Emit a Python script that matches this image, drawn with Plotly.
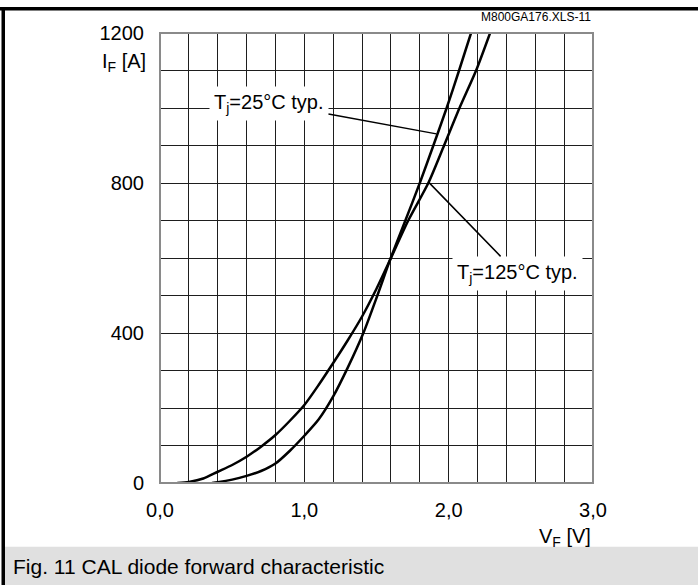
import plotly.graph_objects as go

# ---- data ----
vf_25 = [0.36, 0.4, 0.5, 0.6, 0.7, 0.8, 0.9, 1.0, 1.1, 1.2, 1.3, 1.409, 1.506, 1.594, 1.70, 1.80, 1.894, 1.986, 2.072, 2.155]
if_25 = [0, 2, 9, 19, 32, 52, 86, 126, 170, 231, 307, 400, 500, 595, 700, 800, 900, 1000, 1100, 1200]

vf_125 = [0.12, 0.2, 0.3, 0.4, 0.5, 0.6, 0.7, 0.8, 0.9, 1.0, 1.1, 1.2, 1.3, 1.4, 1.5, 1.594, 1.72, 1.859, 1.968, 2.075, 2.19, 2.287]
if_125 = [0, 3, 12, 30, 48, 70, 97, 128, 166, 208, 262, 320, 380, 444, 518, 595, 700, 800, 900, 1000, 1100, 1200]

x_tickvals = [0, 1, 2, 3]
x_ticktext = ["0,0", "1,0", "2,0", "3,0"]
y_tickvals = [0, 400, 800, 1200]
y_ticktext = ["0", "400", "800", "1200"]

label_25 = "T<sub>j</sub>=25°C typ."
label_125 = "T<sub>j</sub>=125°C typ."
caption = "Fig. 11 CAL diode forward characteristic"
file_tag = "M800GA176.XLS-11"

# ---- layout geometry (pixels) ----
W, H = 698, 585
L, R, T, B = 160, 593, 33, 483
PW, PH = R - L, B - T
FONT = "Liberation Sans, Arial, sans-serif"


def px(x):
    return (x - L) / PW


def py(y):
    return (B - y) / PH


fig = go.Figure()
fig.add_trace(go.Scatter(x=vf_25, y=if_25, mode="lines",
                         line=dict(color="black", width=2.5, shape="spline", smoothing=0.7),
                         hoverinfo="skip"))
fig.add_trace(go.Scatter(x=vf_125, y=if_125, mode="lines",
                         line=dict(color="black", width=2.5, shape="spline", smoothing=0.7),
                         hoverinfo="skip"))

grid_c = "#1e1e1e"
fig.update_xaxes(range=[0, 3], tickvals=x_tickvals, ticktext=x_ticktext,
                 showgrid=True, gridcolor=grid_c, gridwidth=1.3,
                 minor=dict(dtick=0.2, showgrid=True, gridcolor=grid_c, gridwidth=1.3),
                 zeroline=False, showline=False, ticks="",
                 ticklabelstandoff=13,
                 tickfont=dict(family=FONT, size=20, color="black"))
fig.update_yaxes(range=[0, 1200], tickvals=y_tickvals, ticktext=y_ticktext,
                 showgrid=True, gridcolor=grid_c, gridwidth=1.3,
                 minor=dict(dtick=100, showgrid=True, gridcolor=grid_c, gridwidth=1.3),
                 zeroline=False, showline=False, ticks="",
                 ticklabelstandoff=15,
                 tickfont=dict(family=FONT, size=20, color="black"))

shapes = [
    # plot frame (gray)
    dict(type="rect", xref="paper", yref="paper", x0=0, x1=1, y0=0, y1=1,
         line=dict(color="#8a8a8a", width=2), layer="above"),
    # caption band
    dict(type="rect", xref="paper", yref="paper", x0=px(4), x1=px(W), y0=py(546.7), y1=py(H + 2),
         fillcolor="#e0e0e0", line=dict(width=0), layer="below"),
    # top black rule
    dict(type="rect", xref="paper", yref="paper", x0=px(0), x1=px(W), y0=py(10.5), y1=py(7),
         fillcolor="black", line=dict(width=0), layer="above"),
    # left black rule
    dict(type="rect", xref="paper", yref="paper", x0=px(1.5), x1=px(5), y0=py(H + 2), y1=py(7),
         fillcolor="black", line=dict(width=0), layer="above"),
]

annotations = [
    dict(x=1.915, y=931, xref="x", yref="y", ax=0.755, ay=1013, axref="x", ayref="y",
         text=label_25, showarrow=True, arrowhead=0, arrowwidth=1.5, arrowcolor="black",
         standoff=0, bgcolor="white", borderpad=4,
         font=dict(family=FONT, size=20, color="black")),
    dict(x=1.859, y=803, xref="x", yref="y", ax=2.474, ay=559, axref="x", ayref="y",
         text=label_125, showarrow=True, arrowhead=0, arrowwidth=1.5, arrowcolor="black",
         standoff=0, bgcolor="white", borderpad=4,
         font=dict(family=FONT, size=20, color="black")),
    dict(x=px(148), y=py(63), xref="paper", yref="paper", xanchor="right", yanchor="middle",
         text="I<sub>F</sub> [A]", showarrow=False,
         font=dict(family=FONT, size=20, color="black")),
    dict(x=px(593), y=py(537), xref="paper", yref="paper", xanchor="right", yanchor="middle",
         text="V<sub>F</sub> [V]", showarrow=False,
         font=dict(family=FONT, size=20, color="black")),
    dict(x=px(593), y=py(17), xref="paper", yref="paper", xanchor="right", yanchor="middle",
         text=file_tag, showarrow=False,
         font=dict(family=FONT, size=12, color="black")),
    dict(x=px(11), y=py(566), xref="paper", yref="paper", xanchor="left", yanchor="middle",
         text=caption, showarrow=False,
         font=dict(family=FONT, size=21, color="black")),
]

fig.update_layout(width=W, height=H, margin=dict(l=L, r=W - R, t=T, b=H - B, pad=0),
                  paper_bgcolor="white", plot_bgcolor="white", showlegend=False,
                  shapes=shapes, annotations=annotations)

fig.write_html("out.html")
